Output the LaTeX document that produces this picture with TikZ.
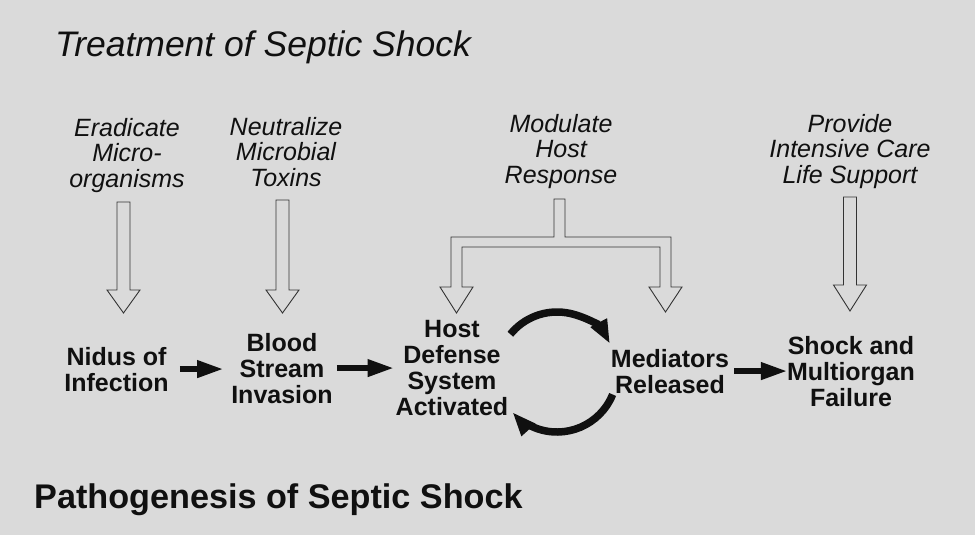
\documentclass[tikz,border=0pt]{standalone}
\usepackage{fontspec}
\setmainfont{Liberation Sans}
\usetikzlibrary{arrows.meta,calc}
\definecolor{bg}{RGB}{218,218,218}
\definecolor{ink}{RGB}{16,16,16}
\newcommand\hollowdown[4]{%
  \draw[hollowarr] (#1-6.5,#2) -- (#1-6.5,#3) -- (#1-16.5,#3) -- (#1,#4) -- (#1+16.5,#3) -- (#1+6.5,#3) -- (#1+6.5,#2) -- cycle;}
\begin{document}
\begin{tikzpicture}[x=1pt,y=-1pt,
  lab/.style={font=\fontsize{25}{25.5}\selectfont\itshape, align=center, anchor=base, inner sep=0pt, text=ink},
  box/.style={font=\fontsize{25}{26}\selectfont\bfseries, align=center, anchor=base, inner sep=0pt, text=ink},
  hollowarr/.style={draw=black!80, line width=0.9pt, line join=miter},
  blackarr/.style={draw=ink, line width=6.5pt, -{Triangle[length=27pt,width=16pt]}},
  cyclearr/.style={draw=ink, line width=7.5pt, -{Triangle[length=24pt,width=17pt]}},
]
\fill[bg] (0,0) rectangle (975,535);
\useasboundingbox (0,0) rectangle (975,535);

% titles
\node[font=\fontsize{35.5}{40}\selectfont\itshape, anchor=base west, inner sep=0pt, text=ink] (title) at (55,57) {Treatment of Septic Shock};
\node[font=\fontsize{34.2}{38}\selectfont\bfseries, anchor=base west, inner sep=0pt, text=ink] (subtitle) at (34,508) {Pathogenesis of Septic Shock};

% treatment labels (anchor = baseline of last line)
\node[lab] (lab1) at (127,187) {Eradicate\\Micro-\\organisms};
\node[lab] (lab2) at (286,186) {Neutralize\\Microbial\\Toxins};
\node[lab] (lab3) at (561,183) {Modulate\\Host\\Response};
\node[lab] (lab4) at (850,183) {Provide\\Intensive Care\\Life Support};

% pathogenesis boxes
\node[box] (nidus) at (116.5,391) {Nidus of\\Infection};
\node[box] (blood) at (282,403) {Blood\\Stream\\Invasion};
\node[box] (host) at (452,415) {Host\\Defense\\System\\Activated};
\node[box] (med) at (670,393) {Mediators\\Released};
\node[box] (shock) at (851,406) {Shock and\\Multiorgan\\Failure};

% hollow arrows
\hollowdown{123.5}{202}{290}{313}
\hollowdown{282.5}{200}{290}{313}
\hollowdown{850}{197}{285}{311}
\draw[hollowarr] (554,199) -- (554,237) -- (451,237) -- (451,287) -- (440,287) -- (456.5,313)
  -- (473,287) -- (462,287) -- (462,247) -- (660,247) -- (660,287) -- (649,287) -- (665.5,312)
  -- (682,287) -- (671,287) -- (671,237) -- (565,237) -- (565,199) -- cycle;

% black arrows
\draw[blackarr] ([xshift=11pt]nidus.east) -- ([xshift=-7pt]nidus.east -| blood.west);
\draw[blackarr] ([xshift=4pt]blood.east) -- ([xshift=-1pt]blood.east -| host.west);
\draw[blackarr] ([xshift=5pt]med.east) -- ([xshift=1pt]med.east -| shock.west);

% cycle
\coordinate (cyc) at (557,372);
\draw[cyclearr] ([shift={(-141:60)}]cyc) arc[start angle=-141, end angle=-28, radius=60];
\draw[cyclearr] ([shift={(22:60)}]cyc) arc[start angle=22, end angle=138, radius=60];
\end{tikzpicture}
\end{document}
